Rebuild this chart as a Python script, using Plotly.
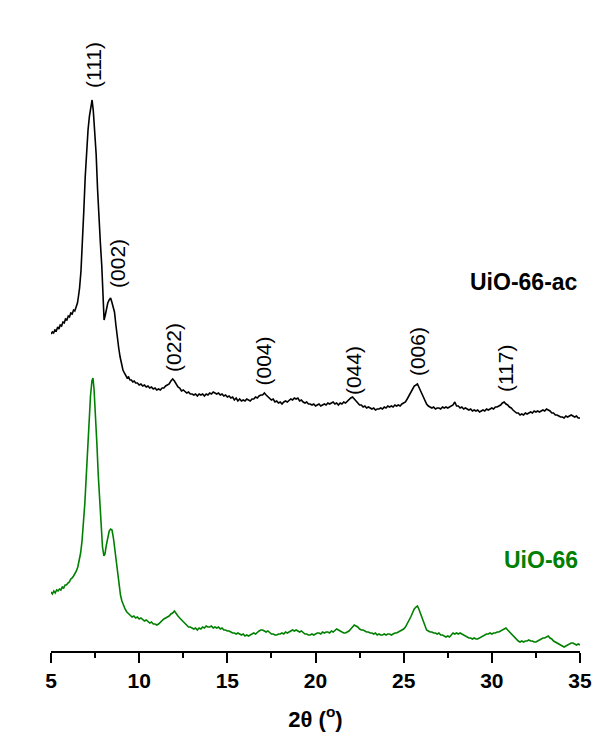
import plotly.graph_objects as go

# ---- Data ----
black_pairs = [
(5.00,317),(5.08,319),(5.15,318),(5.22,321),(5.30,320),(5.38,324),(5.45,322),(5.52,326),(5.60,325),(5.68,329),
(5.75,328),(5.82,332),(5.90,331),(5.98,335),(6.05,334),(6.12,338),(6.20,337),(6.28,341),(6.35,340),(6.42,344),
(6.50,348),(6.56,355),(6.62,363),(6.70,380),(6.78,405),(6.86,440),(6.94,474),(7.02,500),(7.10,521),(7.18,535),
(7.26,546),(7.33,551),(7.40,540),(7.48,522),(7.56,497),(7.64,462),(7.72,430),(7.80,408),(7.88,385),(7.95,358),
(8.01,331),(8.08,336),(8.15,342),(8.22,348),(8.30,351),(8.38,353),(8.45,349),(8.52,344),(8.60,339),(8.68,326),
(8.76,313),(8.84,303),(8.92,294),(9.00,286),(9.08,281),(9.16,278),(9.24,275),(9.32,273),(9.40,274),(9.48,271),
(9.56,271),(9.64,269),(9.72,270),(9.80,268),(9.90,268),(10.00,266),(10.10,267),(10.20,265),(10.30,266),(10.40,264),
(10.50,265),(10.60,263),(10.70,264),(10.80,262),(10.90,263),(11.00,261),(11.10,262),(11.20,261),(11.30,263),(11.40,263),
(11.50,265),(11.60,266),(11.70,267),(11.80,270),(11.90,272),(12.00,270),(12.10,267),(12.20,264),(12.30,263),(12.40,260),
(12.50,261),(12.60,259),(12.70,258),(12.80,259),(12.90,257),(13.00,257),(13.10,256),(13.20,257),(13.30,255),(13.40,257),
(13.50,256),(13.60,257),(13.70,255),(13.80,257),(13.90,256),(14.00,258),(14.10,257),(14.20,259),(14.30,258),(14.40,257),
(14.50,258),(14.60,256),(14.70,257),(14.80,255),(14.90,256),(15.00,254),(15.10,255),(15.20,253),(15.30,254),(15.40,251),
(15.50,253),(15.60,250),(15.70,252),(15.80,250),(15.90,251),(16.00,250),(16.10,252),(16.20,251),(16.30,250),(16.40,252),
(16.50,252),(16.60,254),(16.70,253),(16.80,255),(16.90,256),(17.00,256),(17.10,258),(17.20,256),(17.30,254),(17.40,253),
(17.50,251),(17.60,252),(17.70,249),(17.80,250),(17.90,248),(18.00,249),(18.10,247),(18.20,249),(18.30,250),(18.40,249),
(18.50,251),(18.60,252),(18.70,251),(18.80,253),(18.90,252),(19.00,253),(19.10,250),(19.20,251),(19.30,249),(19.40,248),
(19.50,249),(19.60,247),(19.70,247),(19.80,246),(19.90,247),(20.00,245),(20.10,246),(20.20,247),(20.30,245),(20.40,246),
(20.50,247),(20.60,246),(20.70,248),(20.80,247),(20.90,248),(21.00,249),(21.10,247),(21.20,248),(21.30,246),(21.40,248),
(21.50,247),(21.60,249),(21.70,248),(21.80,250),(21.90,251),(22.00,253),(22.10,254),(22.20,252),(22.30,249),(22.40,247),
(22.50,246),(22.60,246),(22.70,244),(22.80,245),(22.90,243),(23.00,244),(23.10,243),(23.20,242),(23.30,243),(23.40,241),
(23.50,242),(23.60,242),(23.70,243),(23.80,242),(23.90,244),(24.00,243),(24.10,245),(24.20,244),(24.30,245),(24.40,244),
(24.50,246),(24.60,245),(24.70,246),(24.80,245),(24.90,247),(25.00,248),(25.10,249),(25.20,252),(25.30,255),(25.40,259),
(25.50,262),(25.60,265),(25.70,266),(25.78,267),(25.86,264),(25.94,261),(26.02,258),(26.10,254),(26.20,250),(26.30,247),
(26.40,245),(26.50,244),(26.60,243),(26.70,244),(26.80,242),(26.90,243),(27.00,243),(27.10,242),(27.20,244),(27.30,243),
(27.40,244),(27.50,243),(27.60,244),(27.70,245),(27.80,246),(27.90,249),(28.00,245),(28.10,245),(28.20,243),(28.30,244),
(28.40,242),(28.50,243),(28.60,242),(28.70,241),(28.80,242),(28.90,240),(29.00,241),(29.10,240),(29.20,241),(29.30,239),
(29.40,240),(29.50,241),(29.60,240),(29.70,242),(29.80,241),(29.90,242),(30.00,243),(30.10,242),(30.20,244),(30.30,244),
(30.40,245),(30.50,246),(30.60,248),(30.70,249),(30.80,247),(30.90,246),(31.00,244),(31.10,243),(31.20,241),(31.30,239),
(31.40,238),(31.50,238),(31.60,236),(31.70,237),(31.80,236),(31.90,238),(32.00,237),(32.10,238),(32.20,239),(32.30,238),
(32.40,240),(32.50,239),(32.60,240),(32.70,239),(32.80,240),(32.90,241),(33.00,240),(33.10,242),(33.20,241),(33.30,240),
(33.40,238),(33.50,238),(33.60,236),(33.70,236),(33.80,235),(33.90,234),(34.00,234),(34.10,233),(34.20,235),(34.30,234),
(34.40,235),(34.50,236),(34.60,235),(34.70,234),(34.80,235),(34.90,233),(35.00,233)]

green_pairs = [
(5.00,59),(5.08,57),(5.16,60),(5.24,58),(5.32,61),(5.40,60),(5.48,62),(5.56,61),(5.64,64),(5.72,63),
(5.80,66),(5.88,66),(5.96,68),(6.04,69),(6.12,72),(6.20,73),(6.28,75),(6.36,77),(6.44,80),(6.52,84),
(6.60,90),(6.68,98),(6.76,110),(6.84,128),(6.92,148),(7.00,175),(7.08,205),(7.16,232),(7.24,255),(7.32,270),
(7.38,273),(7.44,262),(7.52,240),(7.60,208),(7.68,176),(7.76,148),(7.84,124),(7.92,104),(8.00,95),(8.06,97),
(8.14,106),(8.22,114),(8.30,120),(8.38,122),(8.46,121),(8.54,113),(8.62,102),(8.70,88),(8.78,75),(8.86,64),
(8.94,56),(9.02,50),(9.10,46),(9.20,42),(9.30,39),(9.40,37),(9.50,36),(9.60,34),(9.70,35),(9.80,33),
(9.90,34),(10.00,32),(10.10,33),(10.20,31),(10.30,30),(10.40,31),(10.50,29),(10.60,28),(10.70,29),(10.80,27),
(10.90,27),(11.00,26),(11.10,27),(11.20,29),(11.30,30),(11.40,32),(11.50,33),(11.60,34),(11.70,35),(11.80,37),
(11.90,38),(12.00,40),(12.10,37),(12.20,35),(12.30,33),(12.40,31),(12.50,29),(12.60,27),(12.70,26),(12.80,24),
(12.90,24),(13.00,23),(13.10,22),(13.20,23),(13.30,21),(13.40,23),(13.50,22),(13.60,24),(13.70,23),(13.80,25),
(13.90,24),(14.00,24),(14.10,25),(14.20,23),(14.30,24),(14.40,23),(14.50,24),(14.60,22),(14.70,23),(14.80,21),
(14.90,21),(15.00,20),(15.10,20),(15.20,19),(15.30,18),(15.40,18),(15.50,17),(15.60,18),(15.70,17),(15.80,16),
(15.90,17),(16.00,15),(16.10,16),(16.20,15),(16.30,16),(16.40,17),(16.50,18),(16.60,17),(16.70,19),(16.80,20),
(16.90,21),(17.00,21),(17.10,20),(17.20,19),(17.30,20),(17.40,18),(17.50,17),(17.60,17),(17.70,16),(17.80,16),
(17.90,17),(18.00,17),(18.10,18),(18.20,17),(18.30,19),(18.40,18),(18.50,19),(18.60,20),(18.70,21),(18.80,20),
(18.90,21),(19.00,20),(19.10,19),(19.20,20),(19.30,18),(19.40,17),(19.50,17),(19.60,16),(19.70,16),(19.80,17),
(19.90,16),(20.00,17),(20.10,18),(20.20,18),(20.30,17),(20.40,19),(20.50,18),(20.60,19),(20.70,19),(20.80,18),
(20.90,20),(21.00,19),(21.10,21),(21.20,22),(21.30,21),(21.40,20),(21.50,19),(21.60,18),(21.70,18),(21.80,19),
(21.90,20),(22.00,22),(22.10,24),(22.20,26),(22.30,25),(22.40,24),(22.50,22),(22.60,21),(22.70,21),(22.80,20),
(22.90,19),(23.00,19),(23.10,18),(23.20,18),(23.30,17),(23.40,18),(23.50,16),(23.60,17),(23.70,16),(23.80,16),
(23.90,17),(24.00,16),(24.10,17),(24.20,17),(24.30,16),(24.40,17),(24.50,18),(24.60,18),(24.70,19),(24.80,20),
(24.90,21),(25.00,22),(25.10,24),(25.20,27),(25.30,30),(25.40,34),(25.50,38),(25.60,42),(25.70,44),(25.78,45),
(25.86,42),(25.94,38),(26.02,34),(26.10,30),(26.20,25),(26.30,21),(26.40,20),(26.50,19),(26.60,19),(26.70,18),
(26.80,18),(26.90,17),(27.00,18),(27.10,16),(27.20,16),(27.30,15),(27.40,14),(27.50,15),(27.60,14),(27.70,16),
(27.80,18),(27.90,17),(28.00,18),(28.10,17),(28.20,18),(28.30,17),(28.40,16),(28.50,15),(28.60,14),(28.70,13),
(28.80,13),(28.90,12),(29.00,13),(29.10,12),(29.20,12),(29.30,13),(29.40,14),(29.50,15),(29.60,16),(29.70,17),
(29.80,17),(29.90,18),(30.00,17),(30.10,18),(30.20,18),(30.30,19),(30.40,19),(30.50,20),(30.60,21),(30.70,22),
(30.80,23),(30.90,21),(31.00,19),(31.10,17),(31.20,15),(31.30,13),(31.40,11),(31.50,10),(31.60,9),(31.70,10),
(31.80,9),(31.90,10),(32.00,10),(32.10,11),(32.20,10),(32.30,10),(32.40,9),(32.50,9),(32.60,10),(32.70,11),
(32.80,12),(32.90,13),(33.00,13),(33.10,14),(33.20,15),(33.30,13),(33.40,12),(33.50,10),(33.60,9),(33.70,8),
(33.80,7),(33.90,6),(34.00,5),(34.10,4),(34.20,5),(34.30,6),(34.40,7),(34.50,8),(34.60,8),(34.70,7),
(34.80,6),(34.90,7),(35.00,6)]

black_2theta = [p[0] for p in black_pairs]
black_intensity = [p[1] for p in black_pairs]
green_2theta = [p[0] for p in green_pairs]
green_intensity = [p[1] for p in green_pairs]

peak_labels = ["(111)", "(002)", "(022)", "(004)", "(044)", "(006)", "(117)"]
peak_label_x = [7.38, 8.74, 11.92, 17.05, 22.13, 25.76, 30.75]
peak_label_y = [586, 388, 303, 290, 280, 299, 282]

series_names = ["UiO-66-ac", "UiO-66"]
series_colors = ["#000000", "#008000"]
x_ticks = [5, 10, 15, 20, 25, 30, 35]

FONT = "Liberation Sans, Arial, sans-serif"

fig = go.Figure()
fig.add_trace(go.Scatter(x=black_2theta, y=black_intensity, mode="lines",
                         line=dict(color=series_colors[0], width=1.6), name=series_names[0]))
fig.add_trace(go.Scatter(x=green_2theta, y=green_intensity, mode="lines",
                         line=dict(color=series_colors[1], width=1.6), name=series_names[1]))

annotations = []
for t, x, y in zip(peak_labels, peak_label_x, peak_label_y):
    annotations.append(dict(x=x, y=y, xref="x", yref="y", text=t, showarrow=False,
                            textangle=-90, xanchor="center", yanchor="middle",
                            font=dict(family=FONT, size=21, color="black")))
annotations.append(dict(x=35, y=369, xref="x", yref="y", text=series_names[0], showarrow=False,
                        xanchor="right", yanchor="middle",
                        font=dict(family=FONT, size=23, color=series_colors[0], weight="bold")))
annotations.append(dict(x=35, y=91, xref="x", yref="y", text=series_names[1], showarrow=False,
                        xanchor="right", yanchor="middle",
                        font=dict(family=FONT, size=23, color=series_colors[1], weight="bold")))

fig.update_layout(
    width=605, height=745,
    margin=dict(l=43, r=33, t=12, b=102),
    paper_bgcolor="white", plot_bgcolor="white",
    showlegend=False,
    annotations=annotations,
    xaxis=dict(range=[5, 35], showgrid=False, zeroline=False,
               showline=True, linecolor="black", linewidth=2,
               ticks="outside", ticklen=10, tickwidth=2, tickcolor="black",
               tickvals=x_ticks,
               minor=dict(ticks="outside", ticklen=5, tickwidth=2, tickcolor="black", dtick=2.5),
               tickfont=dict(family=FONT, size=21, color="black", weight="bold"),
               title=dict(text="2θ (<sup>o</sup>)", standoff=20,
                          font=dict(family=FONT, size=22, color="black", weight="bold"))),
    yaxis=dict(range=[0, 631], visible=False, showgrid=False, zeroline=False),
)

fig.write_html("out.html")
